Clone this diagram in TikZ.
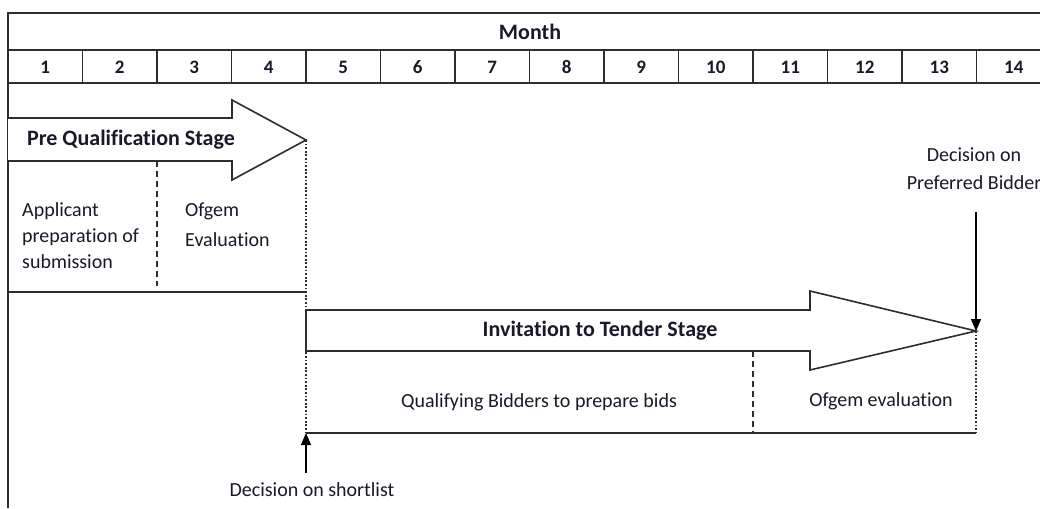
\documentclass[tikz,border=0pt]{standalone}
\usepackage{fontspec}
\setmainfont{Carlito}[Ligatures=NoCommon]
\usetikzlibrary{arrows.meta}
\definecolor{txt}{RGB}{25,25,40}
\definecolor{ln}{RGB}{45,45,45}
\begin{document}
\begin{tikzpicture}[x=1pt,y=-1pt,
  frameline/.style={line width=1.6pt, draw=ln},
  stagearrow/.style={line width=1.6pt, draw=ln, fill=white, line join=miter},
  divider/.style={line width=1.2pt, draw=ln, dash pattern=on 6pt off 4pt},
  milestone/.style={line width=2pt, draw=ln, dash pattern=on 1.8pt off 1.8pt},
  regtext/.style={text=txt, font=\fontsize{20}{26}\selectfont, inner sep=0pt},
  boldtext/.style={text=txt, font=\fontsize{22}{28}\selectfont\bfseries, inner sep=0pt},
  numtext/.style={text=txt, font=\fontsize{19}{24}\selectfont\bfseries, inner sep=0pt},
  pointer/.style={line width=1.3pt, draw=black, -{Triangle[length=12pt,width=10pt]}}
]
\useasboundingbox (0,0) rectangle (1040,508);
\fill[white] (0,0) rectangle (1040,508);

% frame and month header
\draw[frameline] (1040,13) -- (8,13) -- (8,508);
\draw[frameline] (8,50) -- (1040,50);
\draw[frameline] (8,83) -- (1040,83);
\foreach \i in {1,...,13}{
  \draw[frameline] ({8+\i*74.5},50) -- ({8+\i*74.5},83);
}
\node[boldtext] (month) at (530,32) {Month};
\foreach \i in {1,...,14}{
  \node[numtext] (m\i) at ({8+(\i-0.5)*74.5},67) {\i};
}

% Pre qualification stage
\draw[stagearrow] (8,118) -- (232,118) -- (232,100) -- (306,140) -- (232,180) -- (232,161) -- (8,161);
\coordinate (pqTip) at (306,140);
\node[boldtext, anchor=west] (pq) at (27,140) {Pre Qualification Stage};
\draw[divider] (157,161) -- (157,286);
\draw[frameline] (8,292) -- (306,292);
\node[regtext, anchor=west, align=left] (applicant) at (22,236) {Applicant\\preparation of\\submission};
\node[regtext, anchor=west, align=left, font=\fontsize{20}{30}\selectfont] (ofgem1) at (185,225) {Ofgem\\Evaluation};

% Invitation to tender stage
\draw[stagearrow] (306,310) -- (810,310) -- (810,291) -- (976,331) -- (810,370) -- (810,351) -- (306,351) -- cycle;
\coordinate (ittTip) at (976,331);
\node[boldtext] (itt) at (600,331) {Invitation to Tender Stage};
\draw[divider] (753,351) -- (753,433);
\coordinate (slTip) at (306,433);
\coordinate (itEnd) at (976,433);
\draw[frameline] (slTip) -- (itEnd);
\draw[milestone] (pqTip) -- (slTip);
\draw[milestone] (ittTip) -- (itEnd);
\node[regtext] (qual) at (539,402) {Qualifying Bidders to prepare bids};
\node[regtext] (ofgem2) at (881,401) {Ofgem evaluation};

% decisions
\node[regtext] (shortlist) at (312,490) {Decision on shortlist};
\coordinate (slStart) at (306,473);
\draw[pointer] (slStart) -- (slTip);
\node[regtext, align=center, font=\fontsize{20}{28}\selectfont] (preferred) at (974,169) {Decision on\\Preferred Bidder};
\coordinate (pbStart) at (976,212);
\draw[pointer] (pbStart) -- (ittTip);
\end{tikzpicture}
\end{document}
